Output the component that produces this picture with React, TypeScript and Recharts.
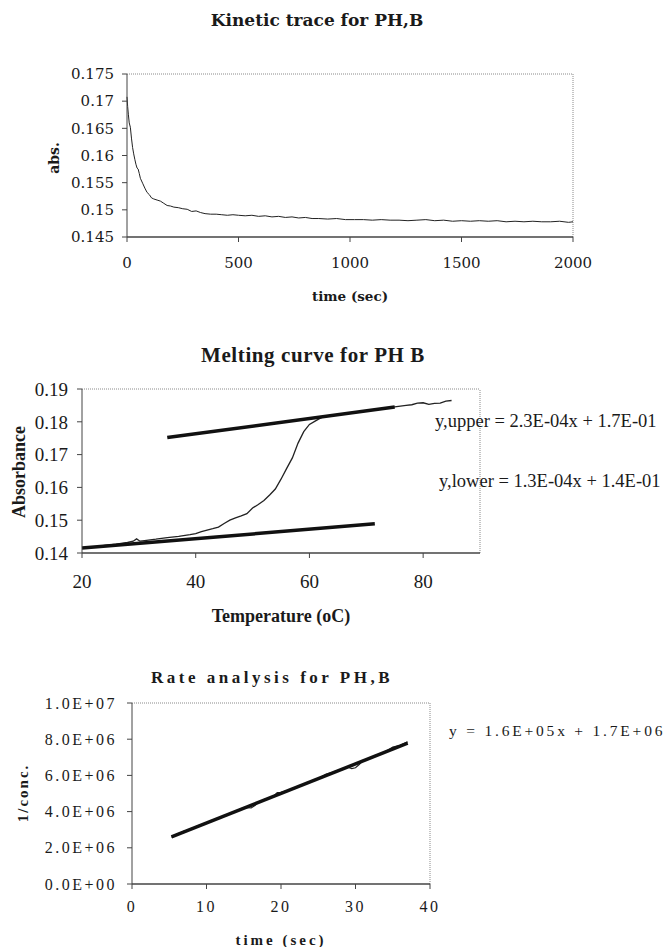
import React from "react";
import { LineChart, Line, XAxis, YAxis, ReferenceLine } from "recharts";

// --- Kinetic trace for PH,B ---
const kineticTime = [
  0, 3, 6, 10, 15, 20, 25, 30, 35, 40, 45, 50, 55, 60, 70, 80, 90, 100, 110, 120, 135, 150, 165, 180, 195,
  210, 230, 250, 270, 290, 310, 330, 350, 375, 400, 425, 450, 475, 500, 530, 560, 590, 620, 650, 680, 710,
  740, 770, 800, 830, 860, 900, 940, 980, 1020, 1060, 1100, 1140, 1180, 1220, 1260, 1300, 1340, 1380, 1420,
  1460, 1500, 1540, 1580, 1620, 1660, 1700, 1740, 1780, 1820, 1860, 1900, 1940, 1980, 2000,
];
const kineticAbs = [
  0.1708, 0.169, 0.1676, 0.166, 0.1652, 0.1632, 0.1615, 0.1603, 0.1593, 0.1584, 0.1577, 0.1575, 0.1567,
  0.1558, 0.1549, 0.154, 0.1532, 0.1528, 0.1522, 0.152, 0.1518, 0.1516, 0.1512, 0.1508, 0.1507, 0.1505,
  0.1504, 0.1502, 0.1501, 0.1497, 0.1498, 0.1495, 0.1493, 0.1492, 0.1492, 0.1491, 0.149, 0.1491, 0.149,
  0.1489, 0.149, 0.1488, 0.1489, 0.1487, 0.1488, 0.1486, 0.1487, 0.1485, 0.1486, 0.1484, 0.1484, 0.1483,
  0.1484, 0.1482, 0.1482, 0.1482, 0.1481, 0.1482, 0.1481, 0.1481, 0.148, 0.1481, 0.1482, 0.148, 0.1481,
  0.1479, 0.148, 0.1479, 0.148, 0.1479, 0.148, 0.1478, 0.1479, 0.1478, 0.1479, 0.1478, 0.1478, 0.1479,
  0.1477, 0.1478,
];
const kineticXTicks = [0, 500, 1000, 1500, 2000];
const kineticYTicks = [0.145, 0.15, 0.155, 0.16, 0.165, 0.17, 0.175];

// --- Melting curve for PH B ---
const meltTemp = [
  20, 22, 24, 26, 28, 29, 29.6, 30.2, 31, 33, 35, 37, 39, 40, 41, 42, 43, 44, 45, 46, 47, 48, 49, 50, 51, 52,
  53, 54, 55, 56, 57, 58, 59, 60, 61, 62, 63, 64, 66, 68, 70, 72, 74, 76, 77, 78, 79, 80, 81, 82, 83, 84, 85,
];
const meltAbs = [
  0.1414, 0.1418, 0.1423, 0.1427, 0.1432, 0.1436, 0.1443, 0.1436, 0.1438, 0.1442, 0.1447, 0.1451, 0.1456,
  0.1459, 0.1465, 0.147, 0.1474, 0.1479, 0.149, 0.15, 0.1507, 0.1513, 0.152, 0.1537, 0.1548, 0.156, 0.1577,
  0.1595, 0.1625, 0.1658, 0.169, 0.1735, 0.177, 0.1792, 0.1802, 0.1812, 0.1818, 0.182, 0.1825, 0.1829,
  0.1834, 0.1838, 0.1843, 0.1848, 0.185, 0.1852, 0.1857, 0.1858, 0.1853, 0.1856, 0.1857, 0.1863, 0.1865,
];
const upperFitTemp = [35, 75];
const upperFitAbs = [0.1752, 0.1845];
const lowerFitTemp = [20, 71.5];
const lowerFitAbs = [0.1415, 0.1489];
const meltXTicks = [20, 40, 60, 80];
const meltYTicks = [0.14, 0.15, 0.16, 0.17, 0.18, 0.19];

// --- Rate analysis for PH,B ---
const rateTime = [
  5.3, 6, 7, 8, 9, 10, 11, 12, 13, 14, 15, 15.5, 16, 16.5, 17, 18, 19, 19.5, 20, 21, 22, 23, 24, 25, 26, 27,
  28, 29, 29.5, 30, 30.5, 31, 32, 33, 34, 35, 36, 37,
];
const rateInvConc = [
  2.58e6, 2.75e6, 2.92e6, 3.03e6, 3.24e6, 3.37e6, 3.56e6, 3.7e6, 3.86e6, 4.05e6, 4.22e6, 4.22e6, 4.2e6,
  4.33e6, 4.53e6, 4.7e6, 4.85e6, 5.05e6, 5.06e6, 5.17e6, 5.33e6, 5.5e6, 5.66e6, 5.82e6, 6.06e6, 6.18e6,
  6.33e6, 6.45e6, 6.38e6, 6.42e6, 6.6e6, 6.82e6, 6.95e6, 7.12e6, 7.3e6, 7.56e6, 7.66e6, 7.85e6,
];
const rateFitTime = [5.3, 37];
const rateFitInvConc = [2.6e6, 7.78e6];
const rateXTicks = [0, 10, 20, 30, 40];
const rateYTicks = [0, 2e6, 4e6, 6e6, 8e6, 1e7];

const zip = (xs: number[], ys: number[]) => xs.map((x, i) => ({ x, y: ys[i] }));

const schoolbook = "'DejaVu Serif', serif";
const times = "'Liberation Serif', 'Times New Roman', serif";
const ink = "#1a1a1a";
const frame = "#8a8a8a";

const sciFmt = (v: number) => {
  const [m, e] = v.toExponential(1).split("e");
  const sign = e[0] === "-" ? "-" : "+";
  const digits = e.replace(/[+-]/, "").padStart(2, "0");
  return `${m}E${sign}${digits}`;
};

function Txt({
  x,
  y,
  children,
  style,
  left = false,
  rotate = false,
}: {
  x: number;
  y: number;
  children: React.ReactNode;
  style?: React.CSSProperties;
  left?: boolean;
  rotate?: boolean;
}) {
  const tx = left ? "translate(0,-50%)" : "translate(-50%,-50%)";
  return (
    <div
      style={{
        position: "absolute",
        left: x,
        top: y,
        transform: rotate ? `${tx} rotate(-90deg)` : tx,
        whiteSpace: "nowrap",
        color: ink,
        lineHeight: 1,
        ...style,
      }}
    >
      {children}
    </div>
  );
}

export default function App() {
  const kinetic = zip(kineticTime, kineticAbs);
  const melt = zip(meltTemp, meltAbs);
  const upperFit = zip(upperFitTemp, upperFitAbs);
  const lowerFit = zip(lowerFitTemp, lowerFitAbs);
  const rate = zip(rateTime, rateInvConc);
  const rateFit = zip(rateFitTime, rateFitInvConc);

  return (
    <div style={{ position: "absolute", left: 0, top: 0, width: 665, height: 947, background: "#fff", overflow: "hidden" }}>
      {/* chart 1 */}
      <Txt x={317} y={20} style={{ fontFamily: schoolbook, fontWeight: "bold", fontSize: 17 }}>
        Kinetic trace for PH,B
      </Txt>
      <div style={{ position: "absolute", left: 0, top: 0 }}>
        <LineChart width={665} height={320} margin={{ top: 74, right: 92, left: 0, bottom: 0 }}>
          <XAxis
            type="number"
            dataKey="x"
            domain={[0, 2000]}
            ticks={kineticXTicks}
            height={83}
            tickSize={5}
            tickMargin={15}
            axisLine={{ stroke: "#444", strokeWidth: 1.5 }}
            tickLine={{ stroke: "#444" }}
            tick={{ fill: ink, fontFamily: schoolbook, fontSize: 15 }}
          />
          <YAxis
            type="number"
            domain={[0.145, 0.175]}
            ticks={kineticYTicks}
            width={127}
            tickSize={5}
            tickMargin={8}
            tickFormatter={(v: number) => String(parseFloat(v.toFixed(3)))}
            axisLine={{ stroke: "#444" }}
            tickLine={{ stroke: "#444" }}
            tick={{ fill: ink, fontFamily: schoolbook, fontSize: 15 }}
          />
          <ReferenceLine y={0.175} stroke={frame} strokeDasharray="1 1" />
          <ReferenceLine x={2000} stroke={frame} strokeDasharray="1 1" />
          <Line data={kinetic} dataKey="y" stroke="#222" strokeWidth={1} dot={false} isAnimationActive={false} />
        </LineChart>
      </div>
      <Txt x={350} y={297} style={{ fontFamily: schoolbook, fontWeight: "bold", fontSize: 13.5 }}>
        time (sec)
      </Txt>
      <Txt x={54} y={158} rotate style={{ fontFamily: schoolbook, fontWeight: "bold", fontSize: 14 }}>
        abs.
      </Txt>

      {/* chart 2 */}
      <Txt x={313} y={355} style={{ fontFamily: times, fontWeight: "bold", fontSize: 21, letterSpacing: 0.6 }}>
        Melting curve for PH B
      </Txt>
      <div style={{ position: "absolute", left: 0, top: 330 }}>
        <LineChart width={665} height={290} margin={{ top: 59, right: 185, left: 0, bottom: 0 }}>
          <XAxis
            type="number"
            dataKey="x"
            domain={[20, 90]}
            ticks={meltXTicks}
            height={67}
            tickSize={5}
            tickMargin={17}
            axisLine={{ stroke: "#444", strokeWidth: 1.5 }}
            tickLine={{ stroke: "#444" }}
            tick={{ fill: ink, fontFamily: times, fontSize: 19 }}
          />
          <YAxis
            type="number"
            domain={[0.14, 0.19]}
            ticks={meltYTicks}
            width={82}
            tickSize={5}
            tickMargin={9}
            tickFormatter={(v: number) => v.toFixed(2)}
            axisLine={{ stroke: "#444" }}
            tickLine={{ stroke: "#444" }}
            tick={{ fill: ink, fontFamily: times, fontSize: 19 }}
          />
          <ReferenceLine y={0.19} stroke={frame} strokeDasharray="1 1" />
          <ReferenceLine x={90} stroke={frame} strokeDasharray="1 1" />
          <Line data={melt} dataKey="y" stroke="#222" strokeWidth={1.3} dot={false} isAnimationActive={false} />
          <Line data={upperFit} dataKey="y" stroke="#111" strokeWidth={3.5} dot={false} isAnimationActive={false} />
          <Line data={lowerFit} dataKey="y" stroke="#111" strokeWidth={3.5} dot={false} isAnimationActive={false} />
        </LineChart>
      </div>
      <Txt x={435} y={421} left style={{ fontFamily: times, fontSize: 18.5 }}>
        y,upper = 2.3E-04x + 1.7E-01
      </Txt>
      <Txt x={439} y={481} left style={{ fontFamily: times, fontSize: 18.5 }}>
        y,lower = 1.3E-04x + 1.4E-01
      </Txt>
      <Txt x={281} y={616} style={{ fontFamily: times, fontWeight: "bold", fontSize: 18 }}>
        Temperature (oC)
      </Txt>
      <Txt x={19} y={472} rotate style={{ fontFamily: times, fontWeight: "bold", fontSize: 18 }}>
        Absorbance
      </Txt>

      {/* chart 3 */}
      <Txt x={272} y={677} style={{ fontFamily: times, fontWeight: "bold", fontSize: 17, letterSpacing: 3.5 }}>
        Rate analysis for PH,B
      </Txt>
      <div style={{ position: "absolute", left: 0, top: 640 }}>
        <LineChart width={665} height={307} margin={{ top: 63, right: 235, left: 0, bottom: 0 }}>
          <XAxis
            type="number"
            dataKey="x"
            domain={[0, 40]}
            ticks={rateXTicks}
            height={63}
            tickSize={5}
            tickMargin={12}
            axisLine={{ stroke: "#444", strokeWidth: 1.5 }}
            tickLine={{ stroke: "#444" }}
            tick={{ fill: ink, fontFamily: times, fontSize: 16, letterSpacing: 2.5 }}
          />
          <YAxis
            type="number"
            domain={[0, 1e7]}
            ticks={rateYTicks}
            width={132}
            tickSize={5}
            tickMargin={10}
            tickFormatter={sciFmt}
            axisLine={{ stroke: "#444" }}
            tickLine={{ stroke: "#444" }}
            tick={{ fill: ink, fontFamily: times, fontSize: 16, letterSpacing: 2.5 }}
          />
          <ReferenceLine y={1e7} stroke={frame} strokeDasharray="1 1" />
          <ReferenceLine x={40} stroke={frame} strokeDasharray="1 1" />
          <Line data={rate} dataKey="y" stroke="#222" strokeWidth={1.2} dot={false} isAnimationActive={false} />
          <Line data={rateFit} dataKey="y" stroke="#111" strokeWidth={3.5} dot={false} isAnimationActive={false} />
        </LineChart>
      </div>
      <Txt x={449} y={731} left style={{ fontFamily: times, fontSize: 15.5, letterSpacing: 2.8 }}>
        y = 1.6E+05x + 1.7E+06
      </Txt>
      <Txt x={281} y={940} style={{ fontFamily: times, fontWeight: "bold", fontSize: 15, letterSpacing: 3 }}>
        time (sec)
      </Txt>
      <Txt x={23} y={793} rotate style={{ fontFamily: times, fontWeight: "bold", fontSize: 15, letterSpacing: 2 }}>
        1/conc.
      </Txt>
    </div>
  );
}
